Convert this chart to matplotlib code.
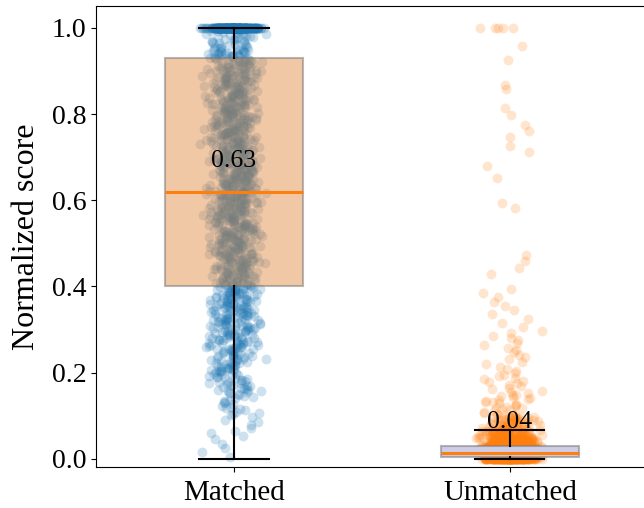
import numpy as np
import matplotlib
matplotlib.use("Agg")
import matplotlib.pyplot as plt

plt.rcParams['font.family'] = ['Liberation Serif', 'DejaVu Serif']

# groups and box statistics
groups = ['Matched', 'Unmatched']
q1 = [0.40, 0.005]
medians = [0.62, 0.014]
q3 = [0.93, 0.030]
whis_lo = [0.0, 0.0]
whis_hi = [1.0, 0.068]
mean_labels = ['0.63', '0.04']

# Matched scores: counts per bin (edges) plus points sitting exactly at 1.0
matched_edges = [0.0, 0.05, 0.10, 0.15, 0.20, 0.25, 0.30, 0.35, 0.40, 0.45, 0.50,
                 0.55, 0.60, 0.65, 0.70, 0.75, 0.80, 0.85, 0.90, 0.95, 1.0]
matched_counts = [5, 8, 18, 35, 45, 55, 60, 65, 70, 75, 80,
                  85, 85, 85, 80, 80, 75, 75, 65, 40]
matched_at_one = 280

# Unmatched scores: dense near zero, sparse tail
unmatched_edges = [0.0, 0.01, 0.02, 0.03, 0.05, 0.07, 0.10, 0.15, 0.20, 0.30, 0.40]
unmatched_counts = [400, 400, 300, 200, 80, 50, 25, 15, 18, 10]
unmatched_at_zero = 150
unmatched_tail = [1.0, 1.0, 1.0, 1.0, 1.0, 0.958, 0.925, 0.868, 0.858, 0.815,
                  0.798, 0.775, 0.761, 0.747, 0.726, 0.712, 0.68, 0.652,
                  0.594, 0.582, 0.473, 0.459, 0.443, 0.43]


def expand(edges, counts):
    vals = []
    for lo, hi, n in zip(edges[:-1], edges[1:], counts):
        vals.extend(lo + (hi - lo) * (np.arange(n) + 0.5) / n)
    return vals


matched = np.array(expand(matched_edges, matched_counts) + [1.0] * matched_at_one)
unmatched = np.array([0.0] * unmatched_at_zero
                     + expand(unmatched_edges, unmatched_counts) + unmatched_tail)


def jitter(n, offset):
    # deterministic hash-based spread around the category position
    i = np.arange(n) + offset
    s = sum((np.sin(i * k) * 43758.5453) % 1 for k in (12.9898, 78.233, 37.719))
    return 0.088 * (s - 1.5)


fig = plt.figure(figsize=(6.44, 5.08), dpi=100)
ax = fig.add_axes([96 / 644, 41 / 508, 552 / 644, 461 / 508])

ax.scatter(1 + jitter(len(matched), 1), matched, s=50, color='C0', alpha=0.22,
           linewidths=0, zorder=1)
ax.scatter(2 + jitter(len(unmatched), 7), unmatched, s=50, color='C1', alpha=0.2,
           linewidths=0, zorder=1)

stats = []
for k, name in enumerate(groups):
    stats.append(dict(label=name, q1=q1[k], med=medians[k], q3=q3[k],
                      whislo=whis_lo[k], whishi=whis_hi[k], fliers=[]))

bp = ax.bxp(stats, positions=[1, 2], widths=0.5, capwidths=0.25, patch_artist=True,
            showfliers=False, zorder=2,
            boxprops=dict(edgecolor=(0.45, 0.45, 0.45, 0.5), linewidth=1.5),
            medianprops=dict(color='C1', linewidth=2.2),
            whiskerprops=dict(color='black', linewidth=1.5),
            capprops=dict(color='black', linewidth=1.5))
bp['boxes'][0].set_facecolor((226 / 255, 133 / 255, 57 / 255, 0.45))
bp['boxes'][1].set_facecolor('#cdcde6')

for k, lab in enumerate(mean_labels):
    ax.text(k + 1, medians[k] + 0.045, lab, ha='center', va='bottom',
            fontsize=18.5, zorder=5)

ax.set_xlim(0.5, 2.5)
ax.set_ylim(-0.019, 1.051)
ax.set_xticks([1, 2])
ax.set_xticklabels(groups, fontsize=21)
ax.tick_params(axis='x', pad=6)
ax.set_yticks([0.0, 0.2, 0.4, 0.6, 0.8, 1.0])
ax.set_yticklabels(['0.0', '0.2', '0.4', '0.6', '0.8', '1.0'], fontsize=20)
ax.set_ylabel('Normalized score', fontsize=23, labelpad=8)

fig.savefig('out.png', dpi=100)
